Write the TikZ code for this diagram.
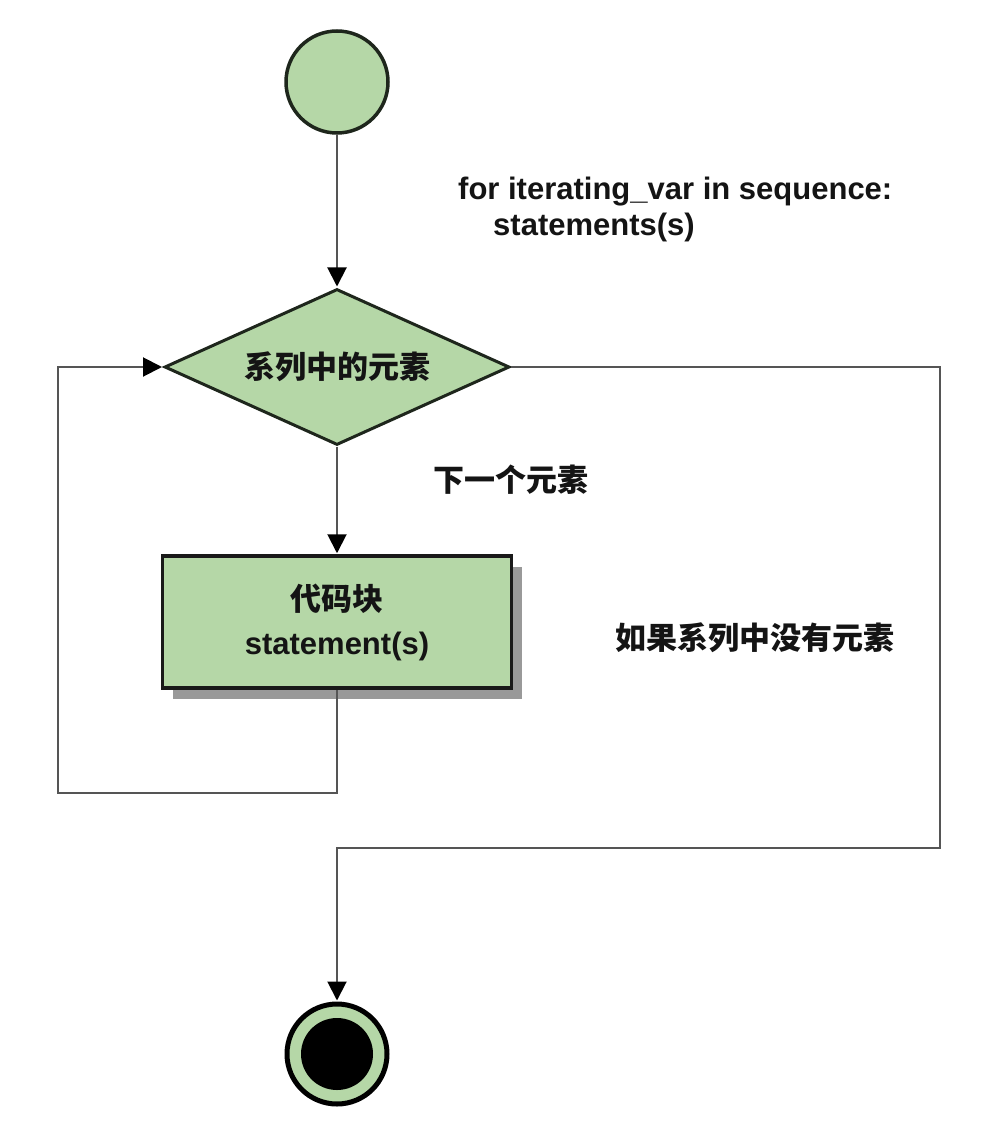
\documentclass[tikz,border=0pt]{standalone}
\usepackage{fontspec}
\setmainfont{Liberation Sans}
\newfontfamily\cjk{Noto Sans CJK SC}
\usetikzlibrary{shapes.geometric,arrows.meta,shadows}
\definecolor{lgreen}{HTML}{B5D7A7}
\definecolor{edge}{HTML}{1E261C}
\definecolor{conncol}{HTML}{555555}
\definecolor{txt}{HTML}{141414}
\tikzset{
  conn/.style={draw=conncol, line width=2pt, -{Triangle[length=19pt,width=19pt,fill=black,color=black]}, shorten >=1pt},
  startnode/.style={circle, fill=lgreen, draw=edge, line width=3.5pt, minimum size=102pt, inner sep=0pt},
  endnode/.style={circle, fill=lgreen, draw=black, line width=5pt, minimum size=100pt, inner sep=0pt},
  endcore/.style={circle, fill=black, minimum size=72pt, inner sep=0pt},
  decnode/.style={diamond, fill=lgreen, draw=edge, line width=3pt, aspect=2.2, minimum width=345pt, minimum height=156pt, inner sep=0pt, font=\cjk\bfseries\fontsize{31}{34}\selectfont, text=txt},
  blknode/.style={rectangle, fill=lgreen, draw=black!90, line width=3.5pt, minimum width=349pt, minimum height=132pt, inner sep=0pt, align=center, text=txt, font=\bfseries\fontsize{31}{44}\selectfont, drop shadow={shadow xshift=10pt, shadow yshift=-11pt, fill=black!40, opacity=1}},
  lbl/.style={text=txt, inner sep=0pt, font=\bfseries\fontsize{31}{35}\selectfont},
  cjklbl/.style={text=txt, inner sep=0pt, font=\cjk\bfseries\fontsize{31}{35}\selectfont},
}
\begin{document}
\begin{tikzpicture}[x=1pt,y=-1pt]
\useasboundingbox[fill=white] (0,0) rectangle (1007,1126);
\node[startnode] (start) at (337,82) {};
\node[decnode] (dec) at (337,367) {系列中的元素};
\node[blknode] (blk) at (337,622) {{\cjk 代码块}\\statement(s)};
\node[endnode] (end) at (337,1054) {};
\node[endcore] (endin) at (337,1054) {};
\node[lbl, anchor=base west] (code1) at (458,200) {for iterating\_var in sequence:};
\node[lbl, anchor=base west] (code2) at (493,235) {statements(s)};
\node[cjklbl, anchor=west] (next) at (433,480) {下一个元素};
\node[cjklbl, anchor=west] (none) at (615,638) {如果系列中没有元素};
\coordinate (lb) at (58,793);
\coordinate (rb) at (940,848);
\draw[conn] (start) -- (dec);
\draw[conn] (dec) -- (blk);
\draw[conn] (blk.south) |- (lb) |- (dec.west);
\draw[conn] (dec.east) -| (rb) -| (end.north);
\end{tikzpicture}
\end{document}
